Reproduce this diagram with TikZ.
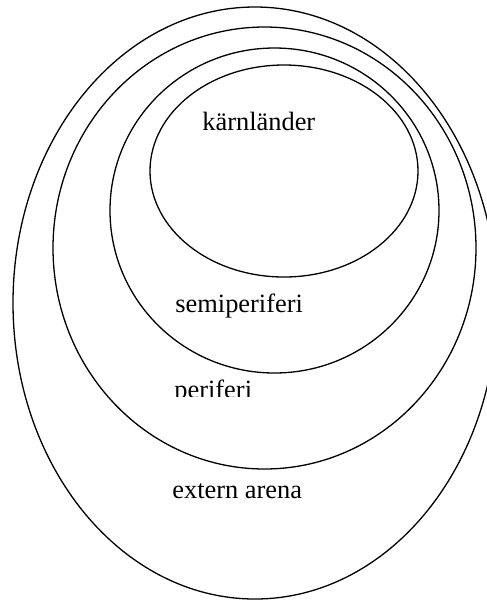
\documentclass[tikz,border=0pt]{standalone}
\usepackage{fontspec}
\setmainfont{Liberation Serif}
\tikzset{
  ring/.style={draw=black, line width=0.65pt},
  lbl/.style={anchor=base west, inner sep=0pt, font=\fontsize{13.2}{15}\selectfont}
}
\begin{document}
\begin{tikzpicture}[x=0.5pt, y=-0.5pt]
\useasboundingbox (0,0) rectangle (487,602);
\begin{scope}
\clip (0,0) rectangle (487,602);
% rings (centre in px, radii in px -> pt)
\draw[ring] (255,303) ellipse [x radius=121pt, y radius=148pt];
\draw[ring] (264.5,248) ellipse [x radius=105.75pt, y radius=110.5pt];
\draw[ring] (274.5,210.5) ellipse [x radius=82.25pt, y radius=81.25pt];
\draw[ring] (284,171) ellipse [x radius=67pt, y radius=53pt];
\end{scope}
% labels
\node[lbl] (karn) at (202,130) {kärnländer};
\node[lbl] (semi) at (175,312) {semiperiferi};
\begin{scope}
  \clip (150,360) rectangle (330,396.5);
  \node[lbl] (peri) at (174,398) {periferi};
\end{scope}
\node[lbl] (ext) at (172,498) {extern arena};
\end{tikzpicture}
\end{document}
